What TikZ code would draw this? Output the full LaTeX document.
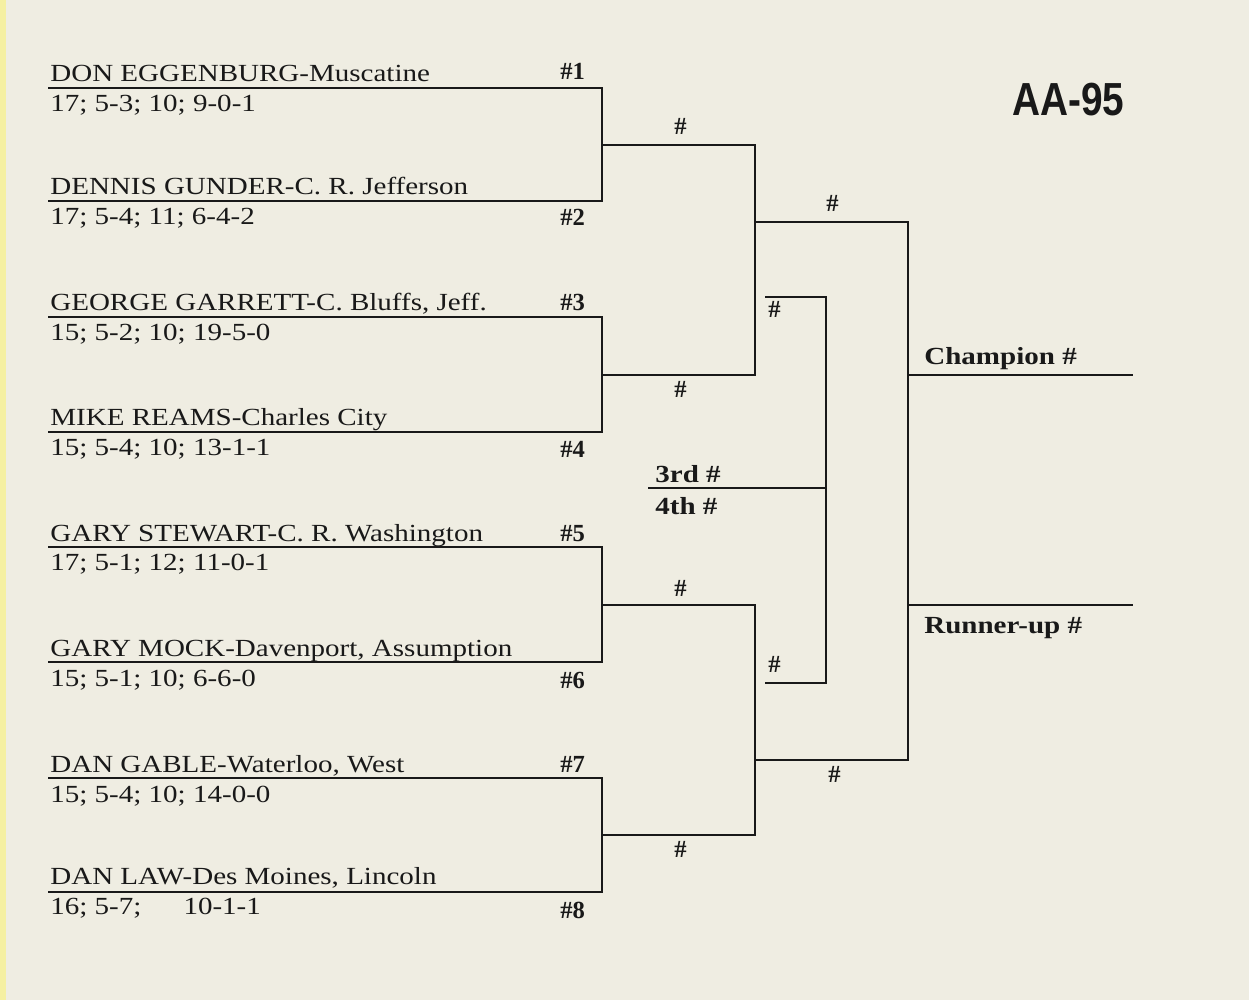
\documentclass[tikz,border=0pt]{standalone}
\usepackage{fontspec}
\setmainfont{Liberation Serif}
\newfontfamily\hdfont{Liberation Sans}
\definecolor{paper}{RGB}{239,237,226}
\definecolor{ink}{RGB}{25,25,25}
\newcommand{\widetxt}[1]{\scalebox{1.18}[1]{#1}}
\begin{document}
\begin{tikzpicture}[x=0.02cm,y=-0.02cm,
  br/.style={draw=ink,line width=1.6pt},
  nm/.style={anchor=base west,inner sep=0pt,text=ink,font=\fontsize{14}{16}\selectfont},
  hs/.style={anchor=base west,inner sep=0pt,text=ink,font=\bfseries\fontsize{14}{16}\selectfont}]
\fill[paper] (0,0) rectangle (1249,1000);
\fill[yellow!30!paper] (0,0) rectangle (6,1000);
\useasboundingbox (0,0) rectangle (1249,1000);
% first round
\foreach \a/\b in {88/201,317/432,547/662,778/892}{
  \draw[br] (48,\a) -- (602,\a) -- (602,\b) -- (48,\b);}
% second round
\draw[br] (602,145) -- (755,145) -- (755,375) -- (602,375);
\draw[br] (602,605) -- (755,605) -- (755,835) -- (602,835);
% semis
\draw[br] (755,222) -- (908,222) -- (908,760) -- (755,760);
\draw[br] (908,375) -- (1133,375);
\draw[br] (908,605) -- (1133,605);
% consolation
\draw[br] (765,297) -- (826,297) -- (826,683) -- (765,683);
\draw[br] (648,488) -- (826,488);
% names
\foreach \y/\n/\r/\k/\ky in {
 82/{DON EGGENBURG-Muscatine}/{17; 5-3; 10; 9-0-1}/1/80,
 195/{DENNIS GUNDER-C. R. Jefferson}/{17; 5-4; 11; 6-4-2}/2/226,
 311/{GEORGE GARRETT-C. Bluffs, Jeff.}/{15; 5-2; 10; 19-5-0}/3/311,
 426/{MIKE REAMS-Charles City}/{15; 5-4; 10; 13-1-1}/4/458,
 541/{GARY STEWART-C. R. Washington}/{17; 5-1; 12; 11-0-1}/5/541,
 656/{GARY MOCK-Davenport, Assumption}/{15; 5-1; 10; 6-6-0}/6/688,
 772/{DAN GABLE-Waterloo, West}/{15; 5-4; 10; 14-0-0}/7/772,
 884/{DAN LAW-Des Moines, Lincoln}/{16; 5-7;\hspace{1.2em} 10-1-1}/8/918}{
  \node[nm] (n\k) at (50,\y) {\widetxt{\n}};
  \node[nm] (r\k) at (50,\y+30) {\widetxt{\r}};
  \node[hs] (s\k) at (560,\ky) {\#\k};}
% hash marks
\foreach \x/\y [count=\i] in {674/135,674/398,826/212,768/318,674/597,674/857,768/672,828/782}
  \node[hs] (h\i) at (\x,\y) {\#};
\node[hs] (third) at (655,483) {\widetxt{3rd \#}};
\node[hs] (fourth) at (655,515) {\widetxt{4th \#}};
\node[hs] (champ) at (924,365) {\widetxt{Champion \#}};
\node[hs] (runner) at (924,633) {\widetxt{Runner-up \#}};
\node[anchor=base west,inner sep=0pt,text=ink,font=\hdfont\bfseries\fontsize{24}{26}\selectfont] (title) at (1012,116) {\scalebox{0.92}[1.1]{AA-95}};
\end{tikzpicture}
\end{document}
